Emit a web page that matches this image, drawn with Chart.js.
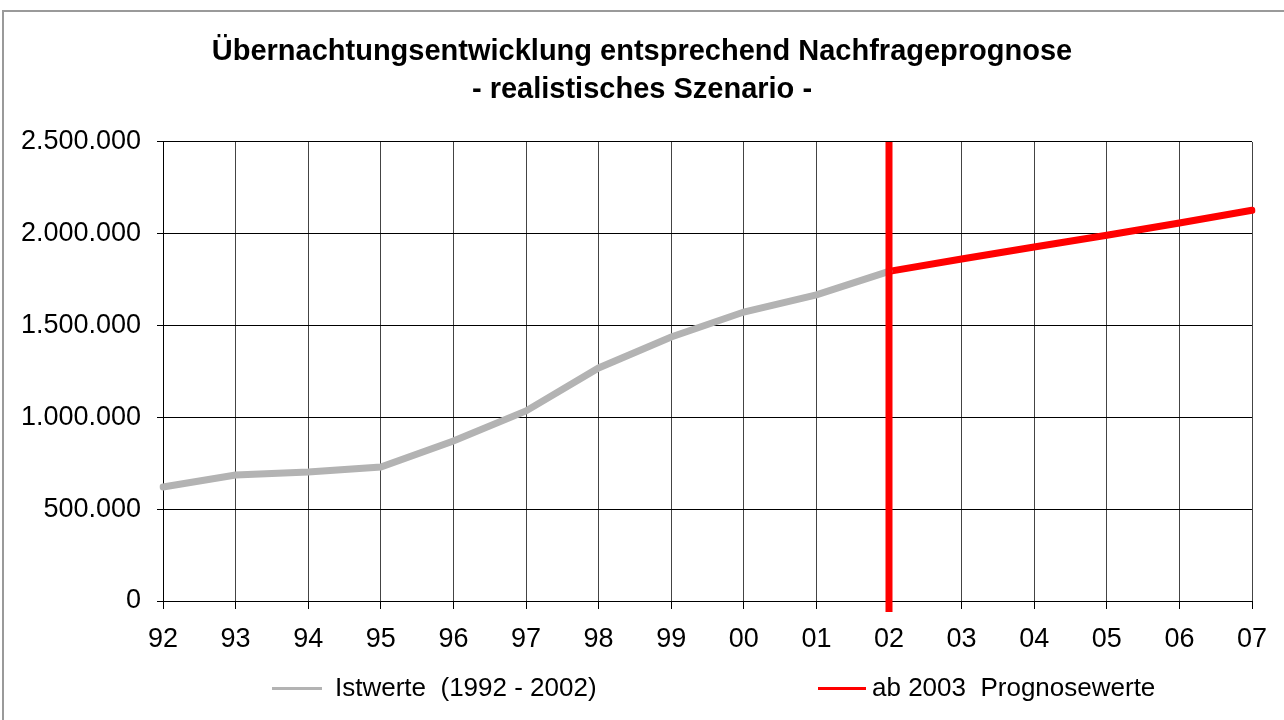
<!DOCTYPE html>
<html>
<head>
<meta charset="utf-8">
<script src="https://cdn.jsdelivr.net/npm/chart.js@4/dist/chart.umd.min.js"></script>
<style>
  body { margin: 0; background: #fff; font-family: "Liberation Sans", Arial, sans-serif; }
  #wrap { position: relative; width: 1284px; height: 720px; overflow: hidden; }
  #frame { position: absolute; left: 2px; top: 10px; width: 1300px; height: 800px; border: 2px solid #9a9a9a; pointer-events: none; }
  .legend-item { position: absolute; top: 672px; font-size: 26px; color: #000; white-space: pre; }
  .legend-item span.line { position: absolute; top: 15px; height: 3px; }
</style>
</head>
<body>
<div id="wrap">
  <canvas id="chart" width="1284" height="720"></canvas>
  <div id="frame"></div>
  <div class="legend-item" style="left:335px"><span class="line" style="left:-63px;width:50px;background:#b3b3b3"></span>Istwerte  (1992 - 2002)</div>
  <div class="legend-item" style="left:872px"><span class="line" style="left:-54px;width:48px;background:#ff0000"></span>ab 2003  Prognosewerte</div>
</div>
<script>
const years = ["92", "93", "94", "95", "96", "97", "98", "99", "00", "01", "02", "03", "04", "05", "06", "07"];
const istwerte = [621000, 686000, 703000, 730000, 871000, 1035000, 1269000, 1438000, 1574000, 1667000, 1795000, null, null, null, null, null];
const prognose = [null, null, null, null, null, null, null, null, null, null, 1795000, 1863000, 1928000, 1992000, 2059000, 2128000];
const forecastStart = "02";

function formatDE(v) {
  return String(v).replace(/\B(?=(\d{3})+(?!\d))/g, ".");
}

// rote senkrechte Linie beim Prognosebeginn
const startLine = {
  id: "startLine",
  afterDatasetsDraw(chart) {
    const x = chart.scales.x.getPixelForValue(years.indexOf(forecastStart));
    const ctx = chart.ctx;
    ctx.save();
    ctx.strokeStyle = "#ff0000";
    ctx.lineWidth = 7;
    ctx.beginPath();
    ctx.moveTo(x, chart.chartArea.top);
    ctx.lineTo(x, chart.chartArea.bottom + 11);
    ctx.stroke();
    ctx.restore();
  }
};

Chart.defaults.font.family = "'Liberation Sans', Arial, sans-serif";
Chart.defaults.color = "#000";

new Chart(document.getElementById("chart"), {
  type: "line",
  data: {
    labels: years,
    datasets: [{
      label: "Istwerte  (1992 - 2002)",
      data: istwerte,
      borderColor: "#b3b3b3",
      borderWidth: 7,
      borderCapStyle: "round",
      pointRadius: 0,
      tension: 0
    }, {
      label: "ab 2003  Prognosewerte",
      data: prognose,
      borderColor: "#ff0000",
      borderWidth: 7,
      borderCapStyle: "round",
      pointRadius: 0,
      tension: 0
    }]
  },
  options: {
    responsive: false,
    animation: false,
    layout: { padding: { left: 0, right: 0, top: 0, bottom: 60 } },
    plugins: {
      legend: { display: false },
      tooltip: { enabled: false },
      title: {
        display: true,
        text: ["Übernachtungsentwicklung entsprechend Nachfrageprognose", "- realistisches Szenario -"],
        font: { size: 29, weight: "bold", lineHeight: 1.31 },
        padding: { top: 33, bottom: 33 },
        color: "#000"
      }
    },
    scales: {
      x: {
        offset: false,
        grid: { color: "#444", lineWidth: 1, tickLength: 8, tickColor: "#000" },
        border: { color: "#000", width: 1 },
        ticks: { font: { size: 27 }, padding: 14, autoSkip: false, maxRotation: 0 },
        afterFit(scale) { scale.height = 59; }
      },
      y: {
        min: 0,
        max: 2500000,
        grid: { color: "#000", lineWidth: 1, tickLength: 6 },
        border: { color: "#000", width: 1 },
        ticks: {
          stepSize: 500000,
          font: { size: 27 },
          padding: 16,
          callback: v => formatDE(v)
        },
        afterFit(scale) { scale.width = 163; }
      },
      // leere rechte Achse, nur als Abstand rechts
      yRight: {
        position: "right",
        min: 0,
        max: 2500000,
        grid: { display: false },
        border: { display: false },
        ticks: { display: false },
        afterFit(scale) { scale.width = 32; }
      }
    }
  },
  plugins: [startLine]
});
</script>
</body>
</html>
